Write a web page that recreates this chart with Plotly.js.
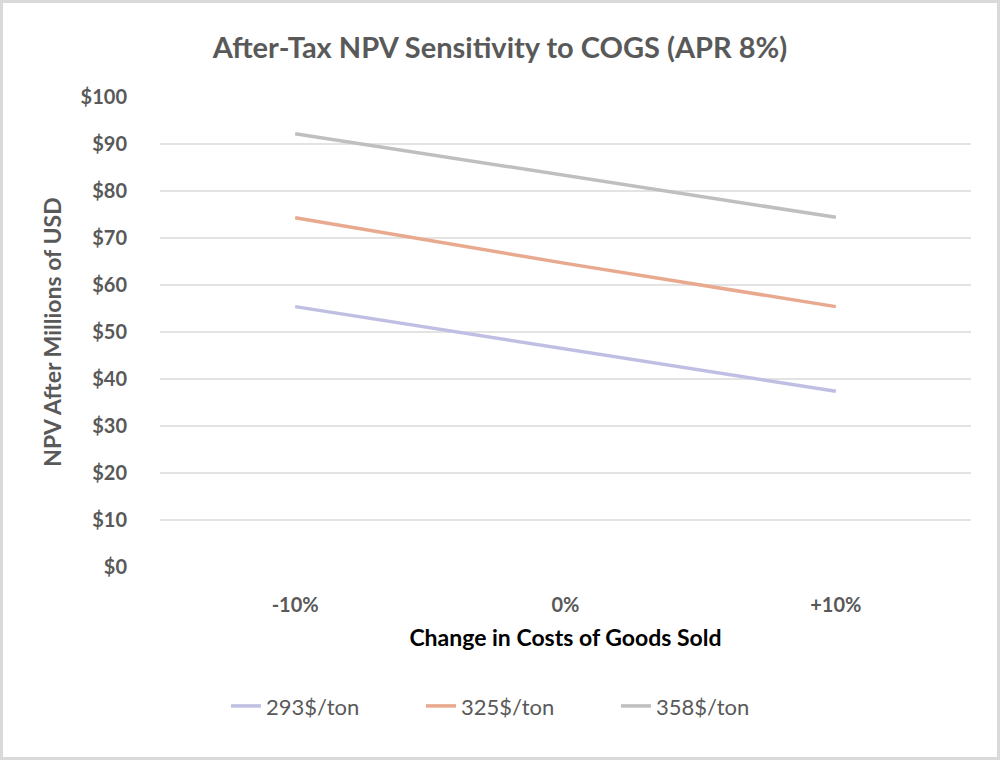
<!DOCTYPE html>
<html><head><meta charset="utf-8">
<script src="https://cdn.plot.ly/plotly-3.0.1.min.js"></script>
<style>
html,body{margin:0;padding:0;background:#fff;}
#wrap{width:1000px;height:760px;box-sizing:border-box;border:3px solid #d9d9d9;}
#chart{width:994px;height:754px;}
</style></head>
<body><div id="wrap"><div id="chart"></div></div>
<script>
const categories = ["-10%", "0%", "+10%"];
const seriesNames = ["293$/ton", "325$/ton", "358$/ton"];
const s293 = [55.4, 46.4, 37.4];
const s325 = [74.3, 64.6, 55.4];
const s358 = [92.2, 83.3, 74.4];
const colors = ["#bfbfe3", "#e8a98e", "#bfbfbf"];
const F = "Lato, 'Open Sans', sans-serif";
const data = [s293, s325, s358].map((v, i) => ({
  x: categories, y: v, type: "scatter", mode: "lines", name: seriesNames[i],
  line: {color: colors[i], width: 3.5}
}));
const layout = {
  width: 994, height: 754,
  margin: {l: 157, r: 26, t: 94, b: 190},
  paper_bgcolor: "#fff", plot_bgcolor: "#fff",
  font: {family: F, color: "#595959"},
  title: {text: "After-Tax NPV Sensitivity to COGS (APR 8%)", x: 0.5, xanchor: "center", y: 0.94, yanchor: "middle",
          font: {family: F, size: 29, color: "#595959", weight: 700}},
  xaxis: {type: "category", range: [-0.5, 2.5], showgrid: false, zeroline: false, showline: false,
          ticks: "outside", ticklen: 20, tickcolor: "rgba(0,0,0,0)",
          tickfont: {family: F, size: 20, color: "#595959", weight: 700},
          title: {text: "Change in Costs of Goods Sold", standoff: 14, font: {family: F, size: 23, color: "#000", weight: 700}}},
  yaxis: {range: [0, 100], dtick: 10, tickprefix: "$", showgrid: true, gridcolor: "#e3e3e3", gridwidth: 1.5,
          zeroline: false, showline: false, ticks: "outside", ticklen: 28, tickcolor: "rgba(0,0,0,0)",
          tickfont: {family: F, size: 20, color: "#595959", weight: 700},
          title: {text: "NPV After Millions of USD", standoff: 12, font: {family: F, size: 23, color: "#595959", weight: 700}}},
  showlegend: true,
  legend: {orientation: "h", x: 0.442, xanchor: "center", y: -0.296, yanchor: "middle",
           font: {family: F, size: 22, color: "#595959"}, entrywidth: 150, entrywidthmode: "pixels", traceorder: "normal"}
};
Plotly.newPlot("chart", data, layout, {displayModeBar: false, staticPlot: true});
</script></body></html>
